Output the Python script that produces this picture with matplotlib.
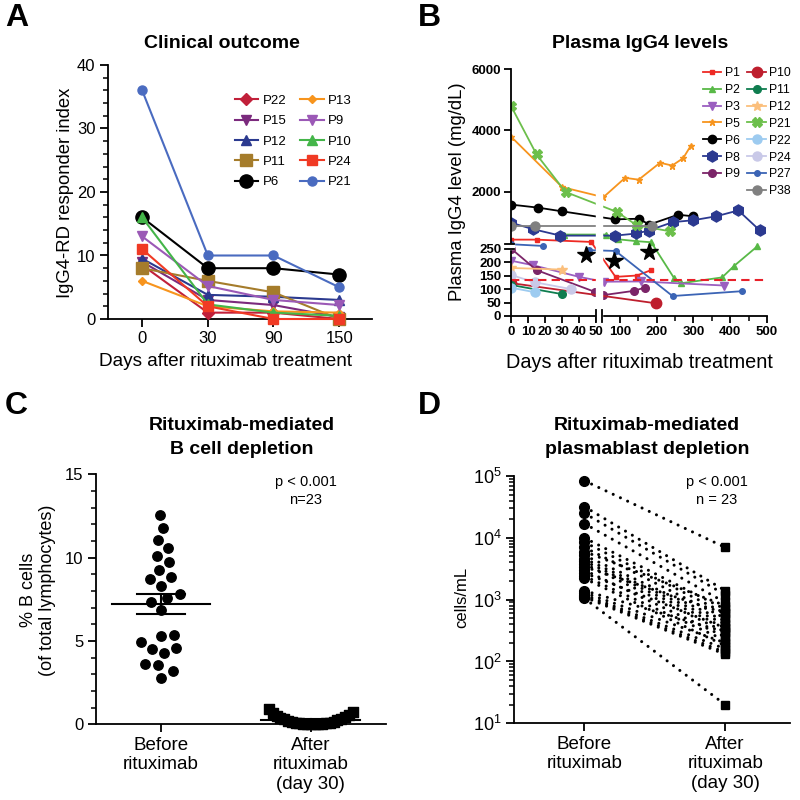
import numpy as np
import matplotlib
matplotlib.use("Agg")
import matplotlib.pyplot as plt
from matplotlib.lines import Line2D
from matplotlib.ticker import MultipleLocator, FixedLocator, LogLocator, NullFormatter

plt.rcParams['font.family'] = ['Liberation Sans', 'DejaVu Sans']
plt.rcParams['mathtext.default'] = 'regular'
plt.rcParams['axes.linewidth'] = 1.3

# ---------------- Panel A data ----------------
a_days = ["0", "30", "90", "150"]
a_P22 = [8.5, 1.0, 1.0, 0.0]
a_P15 = [9.0, 3.0, 2.2, 0.3]
a_P12 = [9.5, 3.8, 3.5, 3.0]
a_P11 = [8.0, 6.0, 4.2, 0.0]
a_P6 = [16.0, 8.0, 8.0, 7.0]
a_P13 = [6.0, 2.0, 1.2, 1.0]
a_P9 = [13.0, 5.2, 3.0, 2.2]
a_P10 = [16.0, 2.3, 1.0, 0.5]
a_P24 = [11.0, 2.0, 0.0, 0.0]
a_P21 = [36.0, 10.0, 10.0, 5.0]

# ---------------- Panel B data ----------------
b_P1_d = [0, 15, 47, 88, 146, 185];          b_P1_v = [450, 450, 375, 145, 150, 170]
b_P2_d = [31, 63, 96, 145, 185, 247, 265, 378, 410, 474]
b_P2_v = [615, 615, 460, 400, 365, 141, 121, 143, 185, 277]
b_P3_d = [0, 13, 40, 56, 156, 382];          b_P3_v = [205, 188, 145, 127, 128, 113]
b_P5_d = [0, 30, 55, 114, 151, 209, 242, 272, 292]
b_P5_v = [3800, 2160, 1830, 2460, 2400, 2950, 2860, 3100, 3490]
b_P6_d = [0, 16, 30, 87, 151, 180, 258, 299]
b_P6_v = [1590, 1490, 1370, 1110, 1130, 940, 1260, 1210]
b_P8_d = [0, 13, 29, 87, 145, 178, 244, 299, 362, 422, 480]
b_P8_v = [1000, 790, 580, 580, 650, 745, 1020, 1080, 1210, 1400, 755]
b_P9_d = [0, 15, 49, 53, 137, 167];          b_P9_v = [250, 170, 90, 77, 93, 105]
b_P10_d = [0, 198];                          b_P10_v = [122, 47]
b_P11_d = [0, 30];                           b_P11_v = [115, 81]
b_P12_d = [0, 30];                           b_P12_v = [178, 172]
b_P21_d = [0, 15, 32, 92, 146, 237];         b_P21_v = [4800, 3220, 2000, 1350, 915, 720]
b_P22_d = [0, 14];                           b_P22_v = [105, 88]
b_P24_d = [0, 14, 35];                       b_P24_v = [152, 125, 100]
b_P27_d = [0, 19, np.nan, 46, 88, 243, 433]; b_P27_v = [300, 280, np.nan, 244, 241, 74, 92]
b_P38_d = [0, 14, 186];                      b_P38_v = [890, 890, 890]
b_star_d = [44, 85, 178];                    b_star_v = [225, 204, 237]
b_uln = 135

# ---------------- Panel C data ----------------
c_before = [12.56, 11.8, 11.06, 10.56, 10.12, 9.76, 9.26, 8.86, 8.7, 8.3, 7.82, 7.56,
            7.36, 6.86, 5.32, 4.96, 5.36, 4.5, 4.56, 4.26, 3.56, 3.6, 3.2, 2.8]
c_after = [0.0, 0.0, 0.01, 0.01, 0.03, 0.03, 0.06, 0.06, 0.1, 0.1, 0.15, 0.16,
           0.22, 0.23, 0.3, 0.31, 0.4, 0.42, 0.52, 0.55, 0.65, 0.75, 0.9]
c_labels = ["Before\nrituximab", "After\nrituximab\n(day 30)"]

# ---------------- Panel D data ----------------
d_before = [84000, 32000, 25000, 17000, 10000, 8500, 7000, 6000, 5200, 4600, 4200, 3800,
            3400, 3000, 2700, 2400, 2200, 1400, 1300, 1200, 1150, 1100, 1050]
d_after = [7000, 1400, 1200, 900, 700, 600, 500, 800, 450, 400, 350, 300,
           600, 250, 350, 220, 180, 300, 200, 160, 140, 130, 20]

W = H = 800
fig = plt.figure(figsize=(8, 8), dpi=100)


def fpos(x, y):
    return (x / W, 1 - y / H)


def ftext(x, y, s, **kw):
    fig.text(x / W, 1 - y / H, s, **kw)


def add_ax(l, t, r, b):
    return fig.add_axes([l / W, 1 - b / H, (r - l) / W, (b - t) / H])


def style(ax):
    ax.spines['top'].set_visible(False)
    ax.spines['right'].set_visible(False)
    ax.tick_params(which='major', length=6, width=1.3, labelsize=12, pad=3)
    ax.tick_params(which='minor', length=3.5, width=1.1)


# ================= Panel A =================
axA = add_ax(108, 65, 372, 319)
style(axA)
xa = np.arange(len(a_days))
a_series = [
    ("P22", a_P22, "#c1203a", "D", 6.0),
    ("P15", a_P15, "#7b2a7d", "v", 7.5),
    ("P12", a_P12, "#2b3a8f", "^", 7.5),
    ("P11", a_P11, "#a57c2b", "s", 8.5),
    ("P6", a_P6, "#000000", "o", 9.5),
    ("P13", a_P13, "#f7941d", "D", 4.5),
    ("P9", a_P9, "#9b59b6", "v", 6.5),
    ("P10", a_P10, "#44b549", "^", 6.5),
    ("P24", a_P24, "#f03a24", "s", 6.5),
    ("P21", a_P21, "#4a6bc0", "o", 6.5),
]
a_handles = []
for name, vals, col, mk, ms in a_series:
    ln, = axA.plot(xa, vals, color=col, marker=mk, markersize=ms, lw=1.5,
                   markeredgecolor=col, label=name, clip_on=False, zorder=3)
    a_handles.append(ln)
axA.set_xlim(-0.52, 3.5)
axA.set_ylim(0, 40)
axA.set_xticks(xa)
axA.set_xticklabels(a_days)
axA.set_yticks([0, 10, 20, 30, 40])
axA.yaxis.set_minor_locator(MultipleLocator(2))
axA.legend(handles=a_handles, ncol=2, loc='upper left',
           bbox_to_anchor=fpos(228, 88), bbox_transform=fig.transFigure,
           frameon=False, fontsize=9.5, handlelength=1.8, handletextpad=0.35,
           columnspacing=1.0, labelspacing=0.62, borderpad=0)
ftext(222, 43, "Clinical outcome", ha='center', va='center', fontsize=14, fontweight='bold')
ftext(66, 193, "IgG4-RD responder index", ha='center', va='center', rotation=90, fontsize=13.3)
ftext(226, 362, "Days after rituximab treatment", ha='center', va='center', fontsize=13.7)
ftext(17, 18, "A", ha='center', va='center', fontsize=23, fontweight='bold')


# ================= Panel B =================
def xf(d):
    d = np.asarray(d, float)
    return np.where(d <= 50, 1.7 * d,
                    np.where(d <= 51, 85 + (d - 50) * 5.7, 90.7 + (d - 51) * 0.3667))


def xi(p):
    p = np.asarray(p, float)
    return np.where(p <= 85, p / 1.7,
                    np.where(p <= 90.7, 50 + (p - 85) / 5.7, 51 + (p - 90.7) / 0.3667))


def yf(v):
    v = np.asarray(v, float)
    return np.where(v <= 250, v * 0.2708,
                    np.where(v <= 300, 67.7 + (v - 250) * 0.086, 72 + (v - 300) * 0.03085))


def yi(p):
    p = np.asarray(p, float)
    return np.where(p <= 67.7, p / 0.2708,
                    np.where(p <= 72, 250 + (p - 67.7) / 0.086, 300 + (p - 72) / 0.03085))


axB = add_ax(511, 69, 767, 316)
style(axB)
axB.set_xscale('function', functions=(xf, xi))
axB.set_yscale('function', functions=(yf, yi))
axB.set_xlim(0, 500)
axB.set_ylim(0, 6000)

b_series = [
    ("P1", b_P1_d, b_P1_v, "#ee2a24", "s", 2.5),
    ("P2", b_P2_d, b_P2_v, "#58b947", "^", 4.5),
    ("P3", b_P3_d, b_P3_v, "#9b5fc0", "v", 6.0),
    ("P5", b_P5_d, b_P5_v, "#f7941d", "*", 4.5),
    ("P6", b_P6_d, b_P6_v, "#000000", "o", 6.0),
    ("P8", b_P8_d, b_P8_v, "#2b3990", "h", 8.0),
    ("P9", b_P9_d, b_P9_v, "#7b2468", "o", 5.5),
    ("P10", b_P10_d, b_P10_v, "#be1e2d", "o", 7.5),
    ("P11", b_P11_d, b_P11_v, "#0f7d4f", "o", 5.5),
    ("P12", b_P12_d, b_P12_v, "#fbbf7c", "*", 7.0),
    ("P21", b_P21_d, b_P21_v, "#6cbf4b", "X", 7.0),
    ("P22", b_P22_d, b_P22_v, "#9dcbf0", "o", 6.5),
    ("P24", b_P24_d, b_P24_v, "#c9c9e8", "o", 6.5),
    ("P27", b_P27_d, b_P27_v, "#3b64b5", "o", 4.0),
    ("P38", b_P38_d, b_P38_v, "#808080", "o", 6.5),
]
b_handles = {}
for name, dd, vv, col, mk, ms in b_series:
    ln, = axB.plot(dd, vv, color=col, marker=mk, markersize=ms, lw=1.3,
                   markeredgecolor=col, label=name, zorder=2)
    b_handles[name] = ln
axB.plot(b_star_d, b_star_v, linestyle='none', marker='*', markersize=13,
         color='black', zorder=3)
axB.axhline(b_uln, color='#e8202a', lw=1.5, dashes=(4, 2.5), zorder=2.2)

# break gaps
axB.axvspan(50, 51, ymin=-0.03, ymax=1.0, color='white', zorder=2.6, clip_on=False)
axB.axhspan(250, 300, xmin=-0.03, xmax=0.012, color='white', zorder=2.6, clip_on=False)
bt_x = axB.get_xaxis_transform()
for xb in (50, 51):
    axB.plot([xb, xb], [-0.025, 0.025], transform=bt_x, color='black', lw=1.3,
             clip_on=False, zorder=4)
bt_y = axB.get_yaxis_transform()
for yb in (250, 300):
    axB.plot([-0.025, 0.012], [yb, yb], transform=bt_y, color='black', lw=1.3,
             clip_on=False, zorder=4)

b_xt = [0, 10, 20, 30, 40, 50, 100, 200, 300, 400, 500]
axB.xaxis.set_major_locator(FixedLocator(b_xt))
axB.xaxis.set_minor_locator(FixedLocator([150, 250, 350, 450]))
axB.set_xticklabels([str(t) for t in b_xt], fontweight='bold', fontsize=9.5)
b_yt = [0, 50, 100, 150, 200, 250, 2000, 4000, 6000]
axB.yaxis.set_major_locator(FixedLocator(b_yt))
axB.yaxis.set_minor_locator(FixedLocator([]))
axB.set_yticklabels([str(t) for t in b_yt], fontweight='bold', fontsize=9.5)
axB.tick_params(axis='both', which='major', pad=2, length=5)

b_order = ["P1", "P2", "P3", "P5", "P6", "P8", "P9", None,
           "P10", "P11", "P12", "P21", "P22", "P24", "P27", "P38"]
hl, ll = [], []
for n in b_order:
    if n is None:
        hl.append(Line2D([], [], color='none'))
        ll.append("")
    else:
        hl.append(b_handles[n])
        ll.append(n)
axB.legend(hl, ll, ncol=2, loc='upper left', bbox_to_anchor=fpos(697, 61),
           bbox_transform=fig.transFigure, frameon=False, fontsize=8.8,
           handlelength=1.5, handletextpad=0.3, columnspacing=0.6,
           labelspacing=0.4, borderpad=0)
ftext(640, 43, "Plasma IgG4 levels", ha='center', va='center', fontsize=14, fontweight='bold')
ftext(457, 192, "Plasma IgG4 level (mg/dL)", ha='center', va='center', rotation=90, fontsize=13.3)
ftext(639, 362, "Days after rituximab treatment", ha='center', va='center', fontsize=14.3)
ftext(429, 18, "B", ha='center', va='center', fontsize=23, fontweight='bold')


# ================= Panel C =================
def swarm(vals, diam, ppx, ppy):
    vals = np.asarray(vals, float)
    order = np.argsort(vals, kind='stable')
    placed = []
    offs = np.zeros(len(vals))
    flip = 1
    for i in order:
        y = vals[i] * ppy
        found = None
        k = 0
        while found is None:
            cands = [0.0] if k == 0 else [flip * k * 0.5, -flip * k * 0.5]
            for x in cands:
                if all((x - px) ** 2 + (y - py) ** 2 >= diam ** 2 for px, py in placed):
                    found = x
                    break
            k += 1
        if found != 0:
            flip = -np.sign(found)
        placed.append((found, y))
        offs[i] = found / ppx
    return offs


def rank_spread(vals, step, ppx):
    # lowest values in the centre, alternating outwards by rank
    vals = np.asarray(vals, float)
    order = np.argsort(vals, kind='stable')
    offs = np.zeros(len(vals))
    for j, i in enumerate(order):
        k = (j + 1) // 2
        sgn = 1 if j % 2 else -1
        offs[i] = sgn * k * step / ppx
    return offs


axC = add_ax(95.7, 474.3, 385.7, 724.3)
style(axC)
c_xlim = (-0.436, 1.5)
c_ppx = 290 / (c_xlim[1] - c_xlim[0])
c_ppy = 250 / 15
ob = swarm(c_before, 13.0, c_ppx, c_ppy)
oa = rank_spread(c_after, 3.8, c_ppx)
axC.scatter(0 + ob, c_before, s=46, marker='o', color='black', zorder=3, clip_on=False)
axC.scatter(1 + oa, c_after, s=42, marker='s', color='black', zorder=3, clip_on=False)
for xc, vals in ((0, c_before), (1, c_after)):
    v = np.asarray(vals)
    m = v.mean()
    se = v.std(ddof=1) / np.sqrt(len(v))
    axC.plot([xc - 0.33, xc + 0.33], [m, m], color='black', lw=1.5, zorder=4)
    axC.plot([xc - 0.16, xc + 0.16], [m + se, m + se], color='black', lw=1.5, zorder=4)
    axC.plot([xc - 0.16, xc + 0.16], [m - se, m - se], color='black', lw=1.5, zorder=4)
    axC.plot([xc, xc], [m - se, m + se], color='black', lw=1.5, zorder=4)
axC.set_xlim(*c_xlim)
axC.set_ylim(0, 15)
axC.set_xticks([0, 1])
axC.set_xticklabels(c_labels, fontsize=13.5, linespacing=1.2)
axC.set_yticks([0, 5, 10, 15])
axC.yaxis.set_minor_locator(MultipleLocator(1))
ftext(242, 425, "Rituximab-mediated", ha='center', va='center', fontsize=14, fontweight='bold')
ftext(242, 450, "B cell depletion", ha='center', va='center', fontsize=14, fontweight='bold')
ftext(306, 482, "p < 0.001", ha='center', va='center', fontsize=10.5)
ftext(306, 500, "n=23", ha='center', va='center', fontsize=10.5)
ftext(29, 590, "% B cells", ha='center', va='center', rotation=90, fontsize=13)
ftext(48, 590, "(of total lymphocytes)", ha='center', va='center', rotation=90, fontsize=13)
ftext(16, 406, "C", ha='center', va='center', fontsize=23, fontweight='bold')

# ================= Panel D =================
axD = add_ax(514.3, 476, 790, 723.3)
style(axD)
axD.set_yscale('log')
for b, a in zip(d_before, d_after):
    axD.plot([0, 1], [b, a], color='black', lw=2.2, linestyle=(0, (0.01, 2.6)),
             dash_capstyle='round', zorder=2)
axD.plot(np.zeros(len(d_before)), d_before, linestyle='none', marker='o',
         markersize=7, color='black', zorder=3, clip_on=False)
axD.plot(np.ones(len(d_after)), d_after, linestyle='none', marker='s',
         markersize=6.3, color='black', zorder=3, clip_on=False)
axD.set_xlim(-0.4975, 1.46)
axD.set_ylim(10, 1e5)
axD.set_xticks([0, 1])
axD.set_xticklabels(c_labels, fontsize=13.5, linespacing=1.2)
axD.yaxis.set_major_locator(LogLocator(base=10, numticks=10))
axD.yaxis.set_minor_locator(LogLocator(base=10, subs=np.arange(2, 10), numticks=20))
axD.yaxis.set_minor_formatter(NullFormatter())
axD.tick_params(axis='y', which='major', labelsize=13)
ftext(647, 425, "Rituximab-mediated", ha='center', va='center', fontsize=14, fontweight='bold')
ftext(647, 450, "plasmablast depletion", ha='center', va='center', fontsize=14, fontweight='bold')
ftext(717, 482, "p < 0.001", ha='center', va='center', fontsize=10.5)
ftext(717, 500, "n = 23", ha='center', va='center', fontsize=10.5)
ftext(462, 597, "cells/mL", ha='center', va='center', rotation=90, fontsize=12)
ftext(429, 406, "D", ha='center', va='center', fontsize=23, fontweight='bold')

fig.savefig("out.png", dpi=100)
